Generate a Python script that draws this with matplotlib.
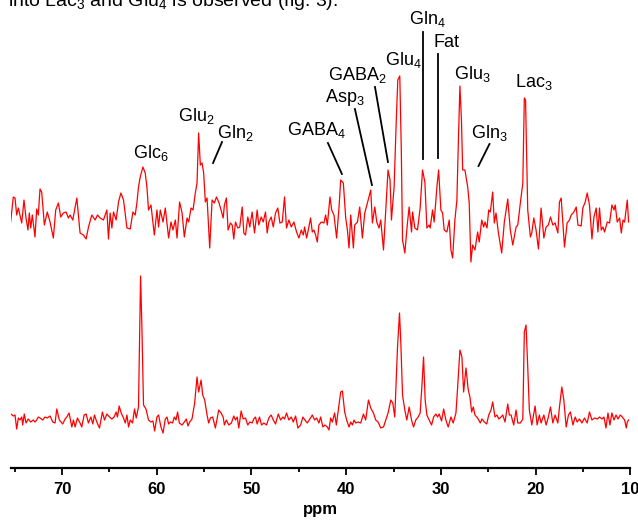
import matplotlib
matplotlib.use('Agg')
import matplotlib.pyplot as plt

# upper spectrum (ppm, intensity above its own baseline)
top_ppm = [75.43, 75.15, 74.97, 74.79, 74.62, 74.26, 74.02, 73.81, 73.60, 73.46, 73.31, 73.14, 72.86, 72.68,
           72.51, 72.33, 72.15, 71.87, 71.56, 71.27, 70.92, 70.67, 70.39, 70.14, 69.86, 69.58, 69.33, 69.15,
           68.87, 68.44, 68.10, 67.75, 67.46, 67.21, 66.86, 66.51, 66.26, 65.98, 65.63, 65.27, 65.10, 64.92,
           64.74, 64.57, 64.29, 64.04, 63.79, 63.51, 63.15, 62.80, 62.52, 62.28, 62.10, 61.93, 61.75, 61.46,
           61.22, 61.04, 60.87, 60.61, 60.26, 59.98, 59.81, 59.63, 59.34, 59.10, 58.75, 58.50, 58.29, 58.04,
           57.86, 57.59, 57.33, 57.09, 56.80, 56.63, 56.38, 56.17, 55.93, 55.75, 55.58, 55.40, 55.22, 55.05,
           54.87, 54.69, 54.41, 54.16, 53.92, 53.70, 53.46, 53.21, 52.99, 52.86, 52.65, 52.47, 52.22, 52.04,
           51.87, 51.69, 51.45, 51.24, 50.98, 50.81, 50.63, 50.39, 50.18, 49.93, 49.68, 49.40, 49.23, 48.97,
           48.76, 48.52, 48.34, 48.17, 47.92, 47.70, 47.46, 47.22, 47.00, 46.75, 46.51, 46.30, 46.05, 45.80,
           45.52, 45.24, 44.99, 44.74, 44.53, 44.39, 44.18, 44.04, 43.76, 43.58, 43.41, 43.23, 43.05, 42.88,
           42.62, 42.35, 42.17, 41.99, 41.71, 41.53, 41.29, 41.01, 40.76, 40.58, 40.30, 40.05, 39.87, 39.70,
           39.52, 39.24, 39.10, 38.81, 38.57, 38.29, 38.04, 37.76, 37.41, 37.23, 36.98, 36.77, 36.53, 36.35,
           36.06, 35.82, 35.58, 35.37, 35.22, 34.94, 34.71, 34.55, 34.34, 34.18, 34.05, 33.81, 33.52, 33.35,
           33.10, 32.99, 32.75, 32.47, 32.19, 31.94, 31.69, 31.48, 31.24, 31.13, 30.88, 30.71, 30.42, 30.24,
           30.00, 29.82, 29.65, 29.37, 29.12, 28.94, 28.76, 28.52, 28.31, 28.15, 27.99, 27.83, 27.70, 27.46,
           27.17, 27.01, 26.83, 26.65, 26.40, 26.12, 25.95, 25.69, 25.48, 25.34, 25.13, 24.95, 24.78, 24.53,
           24.36, 24.18, 23.94, 23.58, 23.30, 22.94, 22.67, 22.41, 22.06, 21.88, 21.61, 21.35, 21.19, 21.06,
           20.83, 20.55, 20.40, 20.19, 19.95, 19.70, 19.42, 19.13, 18.89, 18.65, 18.43, 18.18, 17.94, 17.65,
           17.48, 17.30, 16.95, 16.67, 16.42, 16.24, 15.96, 15.71, 15.53, 15.19, 15.01, 14.76, 14.55, 14.31,
           14.05, 13.84, 13.60, 13.42, 13.25, 13.07, 12.89, 12.72, 12.43, 12.19, 11.94, 11.72, 11.59, 11.38,
           11.13, 10.95, 10.77, 10.60, 10.32, 10.18]
top_int = [-2, 23, 22, 5, 12, -3, 20, 2, -10, 7, -8, 5, -17, 11,
           5, 31, 28, -5, 8, -2, -18, 10, 17, 3, 7, 8, 2, 5,
           0, 22, -13, -15, -19, -7, 5, 0, 5, 2, 0, 10, -19, 7,
           -8, 8, 0, 18, 27, 20, -8, -9, 8, 5, 17, 33, 43, 53,
           47, 33, 10, 15, -15, 10, -7, 10, -2, 12, -18, -2, -10, 0,
           -18, 18, 7, -17, 2, -2, 12, 10, 27, 37, 87, 55, 57, 47,
           18, 22, -28, 20, 17, 23, 18, 10, 2, 15, 22, -10, -3, -5,
           -19, -2, -8, -7, 13, -13, -15, 3, -7, 8, -13, 10, -5, 3,
           -2, 8, -13, -2, 3, -7, 7, 12, -3, -2, 23, -8, 0, -7,
           -2, -12, -18, -10, -15, -7, -18, -12, 2, -12, -10, -15, -22, -5,
           -2, -3, 5, -5, 23, 10, 5, -18, 12, 40, 37, 2, -10, -28,
           5, -28, -5, -2, 13, -18, 7, 17, 30, -3, 13, -2, -8, 0,
           -30, 10, 50, 40, 0, 33, 100, 140, 144, 70, -20, -33, -2, 13,
           -12, 8, -8, -10, 12, 50, 38, -8, -5, -8, 10, -2, 33, 50,
           10, 7, -10, -12, 0, -30, -38, 0, 20, 80, 134, 100, 50, 50,
           33, 17, -42, -25, -30, -12, -22, 0, -7, -2, -8, 10, 8, 28,
           -3, 7, -12, -33, -2, 21, -10, -25, -7, -5, 17, 37, 122, 120,
           10, -17, -13, 2, -10, -29, 12, -18, -7, -5, 3, -5, -3, -13,
           18, 22, -27, -3, 0, 5, 8, 13, -5, -6, 12, 18, 27, 15,
           -19, 3, 12, -12, 12, -10, -7, -12, -2, -3, 15, 10, 15, -2,
           2, -13, 0, -2, 20, -2]

# lower spectrum
bot_ppm = [75.40, 75.15, 74.97, 74.79, 74.62, 74.44, 74.26, 74.16, 73.99, 73.81, 73.57, 73.31, 73.04, 72.86,
           72.68, 72.51, 72.33, 72.04, 71.80, 71.56, 71.27, 70.98, 70.74, 70.56, 70.29, 69.93, 69.68, 69.50,
           69.26, 68.97, 68.80, 68.62, 68.38, 68.10, 67.92, 67.67, 67.46, 67.22, 66.96, 66.75, 66.58, 66.33,
           66.05, 65.74, 65.52, 65.27, 64.99, 64.74, 64.50, 64.29, 64.15, 63.97, 63.76, 63.51, 63.33, 63.15,
           62.98, 62.80, 62.56, 62.35, 62.17, 61.93, 61.71, 61.57, 61.40, 61.14, 60.87, 60.61, 60.40, 60.23,
           59.98, 59.81, 59.56, 59.34, 59.10, 58.92, 58.75, 58.57, 58.33, 58.15, 57.97, 57.80, 57.62, 57.33,
           57.16, 56.88, 56.70, 56.53, 56.28, 56.00, 55.75, 55.58, 55.32, 55.15, 54.94, 54.69, 54.52, 54.34,
           54.10, 53.81, 53.46, 53.21, 52.99, 52.86, 52.65, 52.40, 52.12, 51.87, 51.69, 51.51, 51.34, 51.09,
           50.88, 50.63, 50.39, 50.18, 49.93, 49.76, 49.58, 49.40, 49.15, 48.94, 48.70, 48.41, 48.17, 47.92,
           47.70, 47.46, 47.17, 46.93, 46.69, 46.51, 46.30, 46.05, 45.80, 45.59, 45.34, 45.10, 44.81, 44.57,
           44.36, 44.11, 43.83, 43.58, 43.33, 43.12, 42.88, 42.70, 42.46, 42.24, 41.99, 41.82, 41.64, 41.46,
           41.22, 41.04, 40.83, 40.58, 40.40, 40.16, 39.95, 39.70, 39.52, 39.34, 39.17, 38.99, 38.75, 38.47,
           38.18, 37.94, 37.65, 37.41, 37.12, 36.88, 36.63, 36.35, 36.06, 35.82, 35.58, 35.29, 35.08, 34.87,
           34.58, 34.37, 34.23, 34.05, 33.81, 33.60, 33.35, 33.10, 32.89, 32.65, 32.40, 32.19, 32.01, 31.83,
           31.66, 31.48, 31.24, 30.98, 30.77, 30.53, 30.35, 30.18, 29.93, 29.71, 29.47, 29.23, 28.94, 28.70,
           28.41, 28.23, 27.99, 27.78, 27.60, 27.35, 27.11, 26.93, 26.75, 26.58, 26.40, 26.12, 25.84, 25.66,
           25.42, 25.16, 24.95, 24.71, 24.53, 24.29, 24.07, 23.89, 23.65, 23.47, 23.23, 22.94, 22.77, 22.59,
           22.31, 22.06, 21.88, 21.61, 21.35, 21.19, 21.01, 20.83, 20.66, 20.40, 20.05, 19.84, 19.60, 19.42,
           19.13, 18.89, 18.65, 18.43, 18.18, 17.94, 17.65, 17.48, 17.23, 17.02, 16.77, 16.53, 16.32, 16.06,
           15.82, 15.61, 15.36, 15.11, 14.84, 14.55, 14.31, 14.05, 13.78, 13.49, 13.25, 12.99, 12.78, 12.57,
           12.36, 12.15, 11.94, 11.72, 11.51, 11.30, 11.06, 10.85, 10.60, 10.42, 10.32, 10.18]
bot_int = [6, 4, 5, -9, 2, 0, 3, -5, 6, -3, 1, -2, 0, -2,
           0, 3, 2, 0, 3, 2, 4, -2, -3, 11, 0, -4, 1, 3,
           7, -7, 0, -7, 2, -3, -7, 5, 6, -3, 3, -4, 5, -2,
           -8, 8, 0, 6, 3, 1, 3, 8, 3, 14, 7, 2, -3, 5,
           -7, 0, -3, 11, 2, 13, 144, 93, 15, 11, 0, -2, -1, -11,
           3, 5, -7, -13, 1, 3, -4, -2, -3, 3, 0, 8, -3, -5,
           -3, 1, -6, -2, 1, 17, 43, 28, 40, 25, 20, 5, -3, 2,
           3, -8, 10, 7, 3, -5, 0, -5, -3, 4, 0, 3, -8, 9,
           1, 2, -5, -2, -3, 1, 3, -4, 3, -5, -3, -5, 2, 5,
           0, -4, 6, 0, 3, 1, 7, 0, 3, -2, 4, -8, -5, 3,
           0, -3, 1, 5, 0, 2, -3, 3, -7, -5, -7, -10, 2, -2,
           7, -5, 10, 28, 29, 8, 0, -7, -2, -5, 0, -3, -2, -3,
           6, 0, 20, 12, 7, 0, -2, -8, -7, 0, 7, 20, 17, 3,
           73, 107, 77, 25, 10, 0, 13, 0, -7, 0, 3, 7, 33, 63,
           20, 5, 0, -5, 3, 6, 3, 6, -1, 11, 0, -7, 3, -3,
           7, 33, 70, 63, 28, 52, 30, 23, 8, 13, 5, 2, -3, 1,
           -2, -4, 5, 10, 18, 3, 5, 1, 3, 5, -2, 16, 5, 5,
           -5, 10, -3, -3, 1, 88, 95, 53, 10, -5, 14, -5, 5, -3,
           5, -5, 3, 13, -3, 5, -3, 13, 33, 20, -7, 5, 8, -5,
           3, -2, 1, -3, 2, -3, 8, 0, 2, 1, 3, 1, 3, -8,
           7, -5, 7, 0, 5, 1, 5, 3, 0, -8, -2, 0]

top_offset = 248
bot_offset = 48

plt.rcParams['font.family'] = 'Liberation Sans'
plt.rcParams['mathtext.fontset'] = 'custom'
plt.rcParams['mathtext.rm'] = 'Liberation Sans'
plt.rcParams['mathtext.it'] = 'Liberation Sans:italic'

fig = plt.figure(figsize=(6.38, 5.22), dpi=100)
ax = fig.add_axes([11.4 / 638, 54 / 522, 618.9 / 638, 468 / 522])

ax.plot(top_ppm, [v + top_offset for v in top_int], color='#ff0000', lw=0.9)
ax.plot(bot_ppm, [v + bot_offset for v in bot_int], color='#ff0000', lw=0.9)

ax.set_xlim(75.35, 10)
ax.set_ylim(0, 468)
for s in ['left', 'right', 'top']:
    ax.spines[s].set_visible(False)
ax.spines['bottom'].set_linewidth(1.6)
ax.set_yticks([])
ax.set_xticks([70, 60, 50, 40, 30, 20, 10])
ax.set_xticks([75, 65, 55, 45, 35, 25, 15], minor=True)
ax.tick_params(axis='x', which='major', length=5, width=1.3, direction='out', pad=5)
ax.tick_params(axis='x', which='minor', length=3, width=1.3, direction='out')
for lab in ax.get_xticklabels():
    lab.set_fontweight('bold')
    lab.set_fontsize(12)
ax.set_xlabel('ppm', fontsize=12, fontweight='bold', labelpad=4)
ax.patch.set_alpha(0)

# peak labels (left edge, baseline)
labels = [
    (r'Glc$_6$', 62.51, 310),
    (r'Glu$_2$', 57.76, 347),
    (r'Gln$_2$', 53.64, 330),
    (r'GABA$_4$', 46.25, 333),
    (r'Asp$_3$', 42.24, 366),
    (r'GABA$_2$', 41.92, 388),
    (r'Glu$_4$', 35.90, 403),
    (r'Gln$_4$', 33.37, 444),
    ('Fat', 30.83, 421),
    (r'Glu$_3$', 28.61, 389),
    (r'Gln$_3$', 26.82, 330),
    (r'Lac$_3$', 22.17, 381),
]
for txt, x, y in labels:
    ax.text(x, y, txt, fontsize=13, ha='left', va='baseline', clip_on=False)

# pointer lines
pointers = [
    ((53.11, 54.06), (326, 305)),
    ((41.93, 40.45), (325, 294)),
    ((39.08, 37.28), (359, 283)),
    ((36.96, 35.59), (381, 306)),
    ((31.85, 31.85), (436, 309)),
    ((30.27, 30.27), (414, 310)),
    ((24.87, 26.03), (324, 302)),
]
for xs, ys in pointers:
    ax.plot(xs, ys, color='black', lw=1.3)

# tail of the sentence above the figure, cut at the top as in the page
fig.text(8 / 638, 1 - 6 / 522, r'into Lac$_3$ and Glu$_4$ is observed (fig. 3).',
         fontsize=14, ha='left', va='baseline')

plt.savefig('out.png', dpi=100)
